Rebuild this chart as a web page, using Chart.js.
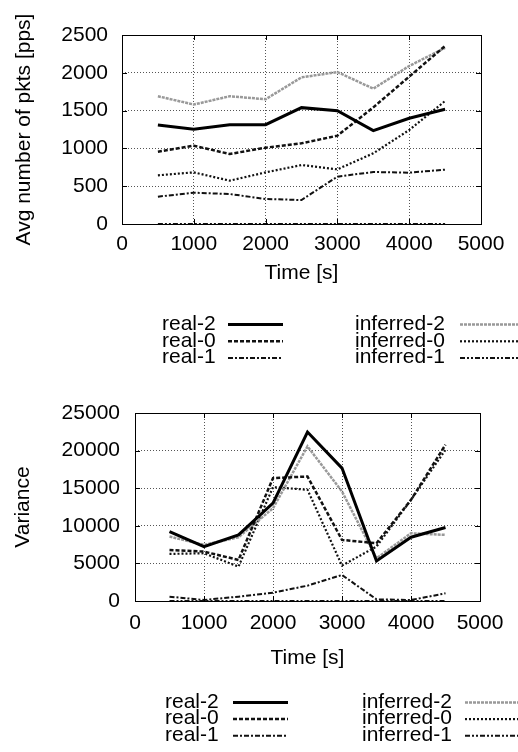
<!DOCTYPE html>
<html><head><meta charset="utf-8">
<script src="https://cdn.jsdelivr.net/npm/chart.js@4.4.0/dist/chart.umd.min.js"></script>
<style>
html,body{margin:0;padding:0;background:#fff;}
#c1{position:absolute;left:0;top:0;}
#c2{position:absolute;left:0;top:375px;}
</style></head><body>
<canvas id="c1" width="518" height="375"></canvas>
<canvas id="c2" width="518" height="377"></canvas>
<script>
// ---------- data ----------
const times = [500, 1000, 1500, 2000, 2500, 3000, 3500, 4000, 4500];
const seriesNames = ['real-2', 'real-0', 'real-1', 'inferred-2', 'inferred-0', 'inferred-1'];
const xTicks = [0, 1000, 2000, 3000, 4000, 5000];
const avgTicks = [0, 500, 1000, 1500, 2000, 2500];
const varTicks = [0, 5000, 10000, 15000, 20000, 25000];

// top chart: average number of packets [pps]
const avgReal2     = [1310, 1252, 1314, 1314, 1539, 1499, 1235, 1398, 1517];
const avgReal0     = [957, 1036, 926, 1010, 1067, 1168, 1543, 1949, 2355];
const avgReal1     = [362, 414, 397, 331, 317, 626, 688, 679, 719];
const avgInferred2 = [1690, 1580, 1690, 1650, 1940, 2010, 1790, 2090, 2330];
const avgInferred0 = [644, 683, 573, 683, 780, 723, 935, 1243, 1627];
const avgInferred1 = [0, 0, 0, 0, 0, 0, 0, 0, 0];

// bottom chart: variance
const varReal2     = [9235, 7237, 8791, 13010, 22470, 17673, 5328, 8480, 9768];
const varReal0     = [6790, 6570, 5460, 16340, 16560, 8125, 7680, 13450, 20780];
const varReal1     = [577, 133, 577, 1110, 2040, 3460, 220, 133, 1020];
const varInferred2 = [8570, 7460, 8480, 12340, 20560, 14560, 5680, 9010, 8790];
const varInferred0 = [6260, 6350, 4570, 15140, 14790, 4710, 7240, 13450, 20110];
const varInferred1 = [0, 0, 0, 0, 0, 0, 0, 0, 0];

// ---------- styles ----------
const FONT = '"Liberation Sans", Arial, Helvetica, sans-serif';
const seriesStyles = [
  { borderColor: '#000', borderWidth: 3, borderDash: [] },
  { borderColor: '#111', borderWidth: 2.5, borderDash: [4, 2] },
  { borderColor: '#111', borderWidth: 2, borderDash: [5, 2, 2, 2] },
  { borderColor: '#999', borderWidth: 2.5, borderDash: [3, 1] },
  { borderColor: '#111', borderWidth: 2.2, borderDash: [2, 2] },
  { borderColor: '#111', borderWidth: 2, borderDash: [5, 2, 2, 2, 2, 2] }
];

function makeDatasets(arrays) {
  return arrays.map((arr, i) => Object.assign({
    label: seriesNames[i],
    data: times.map((t, k) => ({ x: t, y: arr[k] })),
    pointRadius: 0,
    fill: false,
    tension: 0
  }, seriesStyles[i]));
}

const framePlugin = {
  id: 'frame',
  afterDatasetsDraw(chart) {
    const { ctx, chartArea: a, scales } = chart;
    ctx.save();
    ctx.strokeStyle = '#000';
    ctx.lineWidth = 1;
    ctx.setLineDash([]);
    ctx.strokeRect(Math.round(a.left) + 0.5, Math.round(a.top) + 0.5,
      Math.round(a.right - a.left), Math.round(a.bottom - a.top));
    const L = 5;
    ctx.beginPath();
    scales.x.ticks.forEach(t => {
      const px = Math.round(scales.x.getPixelForValue(t.value)) + 0.5;
      ctx.moveTo(px, a.bottom); ctx.lineTo(px, a.bottom - L);
      ctx.moveTo(px, a.top); ctx.lineTo(px, a.top + L);
    });
    scales.y.ticks.forEach(t => {
      const py = Math.round(scales.y.getPixelForValue(t.value)) + 0.5;
      ctx.moveTo(a.left, py); ctx.lineTo(a.left + L, py);
      ctx.moveTo(a.right, py); ctx.lineTo(a.right - L, py);
    });
    ctx.stroke();
    ctx.restore();
  }
};

const legendPlugin = {
  id: 'sideLegend',
  afterDraw(chart, args, opts) {
    const ctx = chart.ctx;
    ctx.save();
    ctx.font = '21px ' + FONT;
    ctx.textBaseline = 'middle';
    ctx.textAlign = 'left';
    chart.data.datasets.forEach((ds, i) => {
      const col = opts.columns[Math.floor(i / 3)];
      const y = opts.top + (i % 3) * opts.rowGap;
      ctx.fillStyle = '#000';
      ctx.fillText(ds.label, col.textX, y);
      ctx.strokeStyle = ds.borderColor;
      ctx.lineWidth = ds.borderWidth;
      ctx.setLineDash(ds.borderDash || []);
      ctx.beginPath();
      ctx.moveTo(col.lineX1, y + 0.5);
      ctx.lineTo(col.lineX2, y + 0.5);
      ctx.stroke();
    });
    ctx.restore();
  }
};

function makeChart(id, arrays, yTicks, yTitle, lay) {
  return new Chart(document.getElementById(id), {
    type: 'line',
    data: { datasets: makeDatasets(arrays) },
    plugins: [framePlugin, legendPlugin],
    options: {
      responsive: false,
      animation: false,
      layout: { padding: { left: 0, right: lay.right, top: lay.top, bottom: lay.bottom } },
      plugins: {
        legend: { display: false },
        tooltip: { enabled: false },
        sideLegend: lay.legend
      },
      scales: {
        x: {
          type: 'linear',
          min: xTicks[0], max: xTicks[xTicks.length - 1],
          afterBuildTicks: s => { s.ticks = xTicks.map(v => ({ value: v })); },
          afterFit: s => { s.height = lay.xHeight; },
          ticks: { color: '#000', font: { family: FONT, size: 21 }, padding: lay.xTickPad, maxRotation: 0, autoSkip: false,
                   callback: v => String(v) },
          grid: { color: '#555', lineWidth: 1, drawTicks: false },
          border: { display: false, dash: [1, 2] },
          title: { display: true, text: 'Time [s]', color: '#000', font: { family: FONT, size: 21 }, padding: 0 }
        },
        y: {
          type: 'linear',
          min: yTicks[0], max: yTicks[yTicks.length - 1],
          afterBuildTicks: s => { s.ticks = yTicks.map(v => ({ value: v })); },
          afterFit: s => { s.width = lay.yWidth; },
          ticks: { color: '#000', font: { family: FONT, size: 21 }, padding: lay.yTickPad, autoSkip: false,
                   callback: v => String(v) },
          grid: { color: '#555', lineWidth: 1, drawTicks: false },
          border: { display: false, dash: [1, 2] },
          title: { display: true, text: yTitle, color: '#000', font: { family: FONT, size: 21 }, padding: { top: lay.yTitlePad, bottom: 0 } }
        }
      }
    }
  });
}

makeChart('c1',
  [avgReal2, avgReal0, avgReal1, avgInferred2, avgInferred0, avgInferred1],
  avgTicks, 'Avg number of pkts [pps]',
  { right: 37, top: 35, bottom: 375 - 224 - 62, xHeight: 62, yWidth: 122,
    xTickPad: 8, yTickPad: 14, yTitlePad: 12,
    legend: { top: 324, rowGap: 16.8,
      columns: [{ textX: 162, lineX1: 228, lineX2: 283 }, { textX: 355, lineX1: 460, lineX2: 520 }] } });

makeChart('c2',
  [varReal2, varReal0, varReal1, varInferred2, varInferred0, varInferred1],
  varTicks, 'Variance',
  { right: 38, top: 38, bottom: 377 - 226 - 70, xHeight: 70, yWidth: 135,
    xTickPad: 10, yTickPad: 15, yTitlePad: 11,
    legend: { top: 327, rowGap: 16.6,
      columns: [{ textX: 165, lineX1: 233, lineX2: 288 }, { textX: 362, lineX1: 465, lineX2: 520 }] } });
</script>
</body></html>
